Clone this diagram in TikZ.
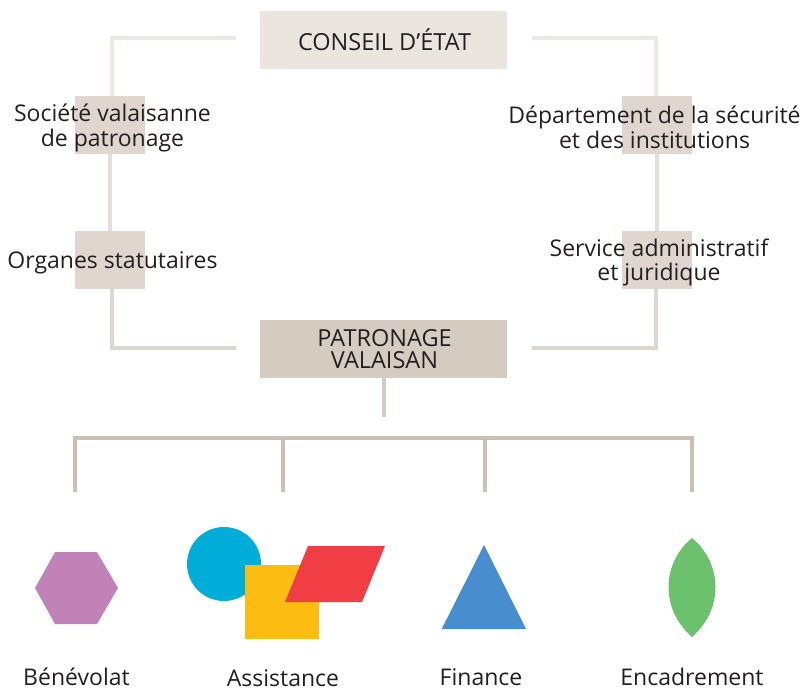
\documentclass[tikz,border=0pt]{standalone}
\usepackage{fontspec}
\setmainfont{Open Sans}
\definecolor{txt}{HTML}{231F20}
\definecolor{boxa}{HTML}{EAE5DF}
\definecolor{boxb}{HTML}{DFD7CF}
\definecolor{boxc}{HTML}{D5CCC1}
\definecolor{linea}{HTML}{EDE8E2}
\definecolor{lineb}{HTML}{E5DFD8}
\definecolor{linec}{HTML}{DED7CE}
\definecolor{lined}{HTML}{CBBFB1}
\definecolor{linee}{HTML}{D5CCC1}
\tikzset{
  box/.style={rectangle,inner sep=0pt,outer sep=0pt,minimum height=58pt},
  wide/.style={box,minimum width=247pt},
  narrow/.style={box,minimum width=70pt,fill=boxb},
  lbl/.style={text=txt,font=\fontsize{23pt}{24.5pt}\selectfont,align=center,inner sep=0pt},
  caps/.style={text=txt,font=\fontsize{23.5pt}{22pt}\selectfont,align=center,inner sep=0pt},
  conn/.style={line width=4pt,line cap=butt,line join=miter}
}
\begin{document}
\begin{tikzpicture}[x=1pt,y=-1pt]
\useasboundingbox (0,0) rectangle (805,690);
% boxes
\node[wide,fill=boxa] (ce) at (383.5,40) {};
\node[wide,fill=boxc] (pv) at (383.5,349) {};
\node[narrow] (sv) at (110,125) {};
\node[narrow] (os) at (110,260) {};
\node[narrow] (ds) at (657,125) {};
\node[narrow] (sa) at (657,260) {};
\coordinate (ceL) at (236,38.5);
\coordinate (ceR) at (532,38.5);
\coordinate (pvL) at (236,348);
\coordinate (pvR) at (532,348);
\coordinate (pvD) at (383.5,417);
\draw[conn,linea] (ceL) -- (112,38.5) -- (112,96);
\draw[conn,linea] (ceR) -- (656,38.5) -- (656,96);
\draw[conn,lineb] (sv.south) -- (os.north);
\draw[conn,lineb] (ds.south) -- (sa.north);
\draw[conn,linec] (pvL) -- (112,348) -- (112,289);
\draw[conn,linec] (pvR) -- (656,348) -- (656,289);
\draw[conn,linee] (pv.south) -- (pvD);
% bus
\coordinate (d1) at (75,492);
\coordinate (d2) at (283,492);
\coordinate (d3) at (485,492);
\coordinate (d4) at (692,492);
\draw[conn,lined] (d1) -- (75,437.5) -- (692,437.5) -- (d4);
\draw[conn,lined] (283,437.5) -- (d2);
\draw[conn,lined] (485,437.5) -- (d3);
% labels over boxes
\node[caps] (cet) at (384.5,39.5) {CONSEIL D’ÉTAT};
\node[caps] (pvt) at (384.5,349) {PATRONAGE\\VALAISAN};
\node[lbl] (svt) at (112.5,128) {Société valaisanne\\de patronage};
\node[lbl] (ost) at (112.5,263) {Organes statutaires};
\node[lbl] (dst) at (654.5,127.5) {Département de la sécurité\\et des institutions};
\node[lbl] (sat) at (659,262.5) {Service administratif\\et juridique};
% shapes
\fill[fill={rgb,255:red,193;green,130;blue,183}] (35,588) -- (55,552) -- (97,552) -- (118,588) -- (97,624) -- (55,624) -- cycle;
\fill[fill={rgb,255:red,0;green,173;blue,216}] (224,564) circle (37);
\fill[fill={rgb,255:red,253;green,188;blue,17}] (245,565) rectangle (319,639);
\fill[fill={rgb,255:red,240;green,62;blue,68}] (308,546) -- (385,546) -- (362,602) -- (285,602) -- cycle;
\fill[fill={rgb,255:red,72;green,141;blue,205}] (484,545) -- (526,629) -- (441.7,629) -- cycle;
\fill[fill={rgb,255:red,108;green,193;blue,109}] (692,538) .. controls (708,551) and (715.5,570) .. (715.5,587) .. controls (715.5,605) and (708,623) .. (692,637) .. controls (676,623) and (668.5,605) .. (668.5,587) .. controls (668.5,570) and (676,551) .. (692,538) -- cycle;
% captions
\node[lbl,anchor=base] (t1) at (76.5,685) {Bénévolat};
\node[lbl,anchor=base] (t2) at (283,686) {Assistance};
\node[lbl,anchor=base] (t3) at (481,685) {Finance};
\node[lbl,anchor=base] (t4) at (692,685) {Encadrement};
\end{tikzpicture}
\end{document}
